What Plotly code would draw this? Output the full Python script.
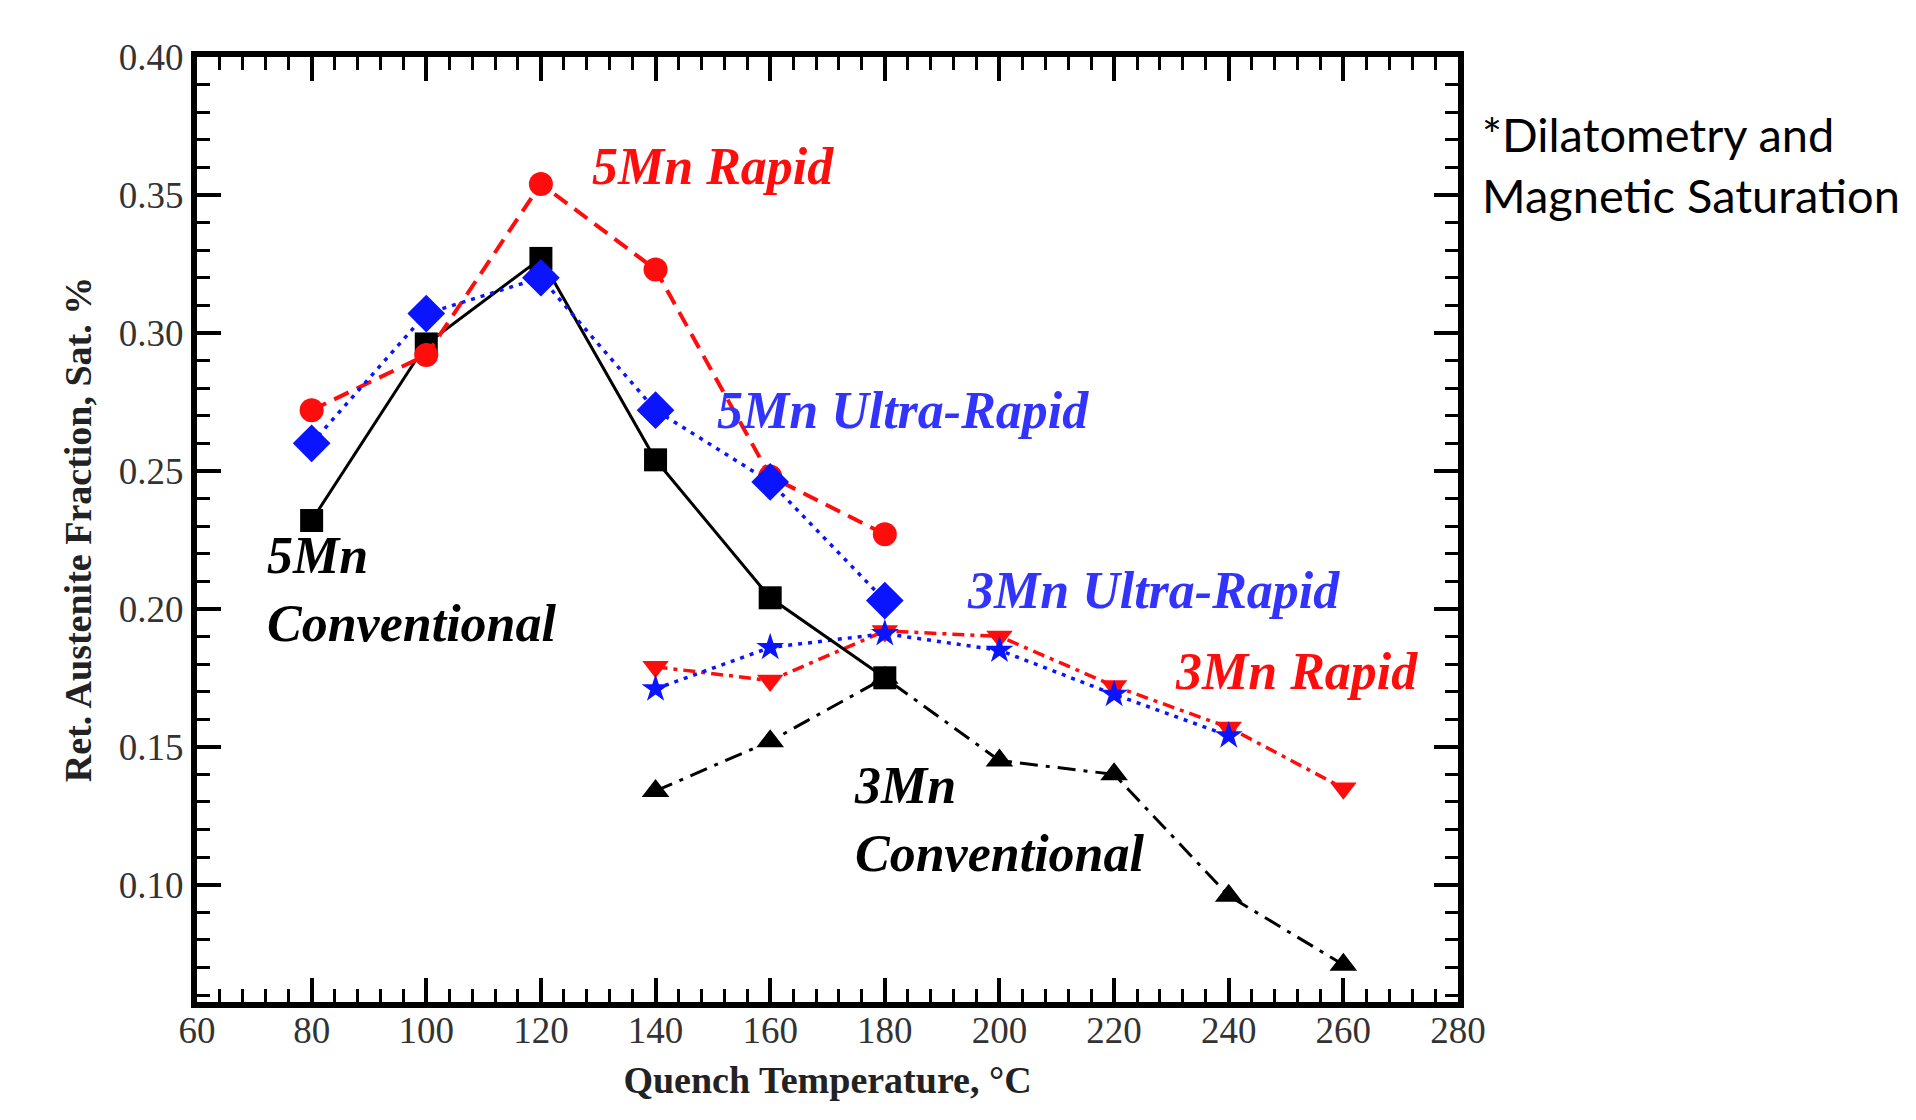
import plotly.graph_objects as go

# Data
temps_5mn = [80, 100, 120, 140, 160, 180]
mn5_conventional = [0.232, 0.296, 0.327, 0.254, 0.204, 0.175]
mn5_rapid = [0.272, 0.292, 0.354, 0.323, 0.248, 0.227]
mn5_ultra = [0.260, 0.307, 0.320, 0.272, 0.246, 0.203]

temps_3mn = [140, 160, 180, 200, 220, 240, 260]
mn3_conventional = [0.134, 0.152, 0.175, 0.145, 0.140, 0.096, 0.071]
mn3_rapid = [0.179, 0.174, 0.192, 0.190, 0.172, 0.157, 0.135]
temps_3mn_ur = [140, 160, 180, 200, 220, 240]
mn3_ultra = [0.171, 0.186, 0.191, 0.185, 0.169, 0.154]

x_ticks = [60, 80, 100, 120, 140, 160, 180, 200, 220, 240, 260, 280]
y_ticks = [0.10, 0.15, 0.20, 0.25, 0.30, 0.35, 0.40]

RED = "#ff0d0d"
BLUE = "#0a14ff"
BLUE_TXT = "#3333ff"
SERIF = "Liberation Serif, Times New Roman, serif"

fig = go.Figure()

fig.add_trace(go.Scatter(x=temps_3mn, y=mn3_conventional, mode="lines+markers",
                         line=dict(color="black", width=3, dash="18px,8px,4px,8px"),
                         marker=dict(symbol="triangle-up", size=24, color="black"),
                         name="3Mn Conventional"))
fig.add_trace(go.Scatter(x=temps_3mn, y=mn3_rapid, mode="lines+markers",
                         line=dict(color=RED, width=3.5, dash="12px,6px,4px,6px"),
                         marker=dict(symbol="triangle-down", size=23, color=RED),
                         name="3Mn Rapid"))
fig.add_trace(go.Scatter(x=temps_3mn_ur, y=mn3_ultra, mode="lines+markers",
                         line=dict(color=BLUE, width=3.5, dash="4px,6px"),
                         marker=dict(symbol="star", size=21, color=BLUE),
                         name="3Mn Ultra-Rapid"))
fig.add_trace(go.Scatter(x=temps_5mn, y=mn5_conventional, mode="lines+markers",
                         line=dict(color="black", width=3),
                         marker=dict(symbol="square", size=23, color="black"),
                         name="5Mn Conventional"))
fig.add_trace(go.Scatter(x=temps_5mn, y=mn5_rapid, mode="lines+markers",
                         line=dict(color=RED, width=4, dash="16px,9px"),
                         marker=dict(symbol="circle", size=24, color=RED),
                         name="5Mn Rapid"))
fig.add_trace(go.Scatter(x=temps_5mn, y=mn5_ultra, mode="lines+markers",
                         line=dict(color=BLUE, width=3.5, dash="4px,6px"),
                         marker=dict(symbol="diamond", size=29, color=BLUE),
                         name="5Mn Ultra-Rapid"))

ann_font = dict(family=SERIF, size=52)
annotations = [
    dict(x=128.6, y=0.3603, text="<b><i>5Mn Rapid</i></b>", font=dict(ann_font, color=RED)),
    dict(x=150.4, y=0.2718, text="<b><i>5Mn Ultra-Rapid</i></b>", font=dict(ann_font, color=BLUE_TXT)),
    dict(x=194.0, y=0.2065, text="<b><i>3Mn Ultra-Rapid</i></b>", font=dict(ann_font, color=BLUE_TXT)),
    dict(x=230.3, y=0.1772, text="<b><i>3Mn Rapid</i></b>", font=dict(ann_font, color=RED)),
    dict(x=71.9, y=0.2069, text="<b><i>5Mn<br>Conventional</i></b>", font=dict(ann_font, color="black"), align="left"),
    dict(x=174.3, y=0.1235, text="<b><i>3Mn<br>Conventional</i></b>", font=dict(ann_font, color="black"), align="left"),
]
for a in annotations:
    a.update(xref="x", yref="y", xanchor="left", yanchor="middle", showarrow=False)
    fig.add_annotation(**a)

fig.add_annotation(xref="paper", yref="paper", x=1.0175, y=0.886, xanchor="left", yanchor="middle",
                   text="*Dilatometry and<br>Magnetic Saturation", showarrow=False, align="left",
                   font=dict(family="Lato, Open Sans, sans-serif", size=47, color="black"))

axis_common = dict(
    showline=True, linecolor="black", linewidth=6, mirror="ticks",
    ticks="inside", ticklen=24, tickwidth=4, tickcolor="black",
    showgrid=False, zeroline=False,
    tickfont=dict(family=SERIF, size=37, color="#333333"),
)

fig.update_xaxes(range=[60, 280], tickvals=x_ticks, ticktext=[str(v) for v in x_ticks],
                 minor=dict(ticks="inside", ticklen=13, tickwidth=3, tickcolor="black", dtick=4, tick0=60),
                 ticklabelstandoff=-9,
                 title=dict(text="<b>Quench Temperature, °C</b>", font=dict(family=SERIF, size=38, color="#222"), standoff=18),
                 **axis_common)
fig.update_yaxes(range=[0.0575, 0.40], tickvals=y_ticks, ticktext=[f"{v:.2f}" for v in y_ticks],
                 minor=dict(ticks="inside", ticklen=13, tickwidth=3, tickcolor="black", dtick=0.01, tick0=0.10),
                 title=dict(text="<b>Ret. Austenite Fraction, Sat. %</b>", font=dict(family=SERIF, size=38, color="#222"), standoff=18),
                 **axis_common)

fig.update_layout(width=1916, height=1120, margin=dict(l=197, r=458, t=57, b=118),
                  plot_bgcolor="white", paper_bgcolor="white", showlegend=False)

fig.write_html("out.html")
